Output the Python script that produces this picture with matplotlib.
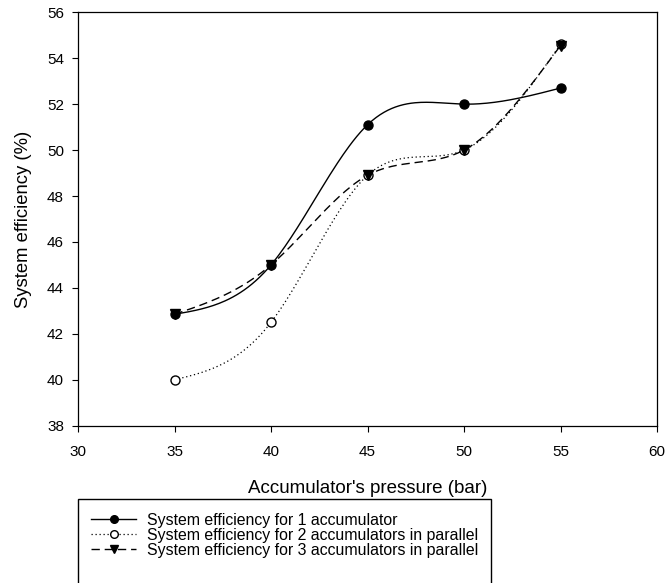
import numpy as np
import matplotlib
matplotlib.use("Agg")
import matplotlib.pyplot as plt
from matplotlib.lines import Line2D
from matplotlib.patches import Rectangle

plt.rcParams['font.family'] = ['Liberation Sans', 'DejaVu Sans']

# data
pressure = [35, 40, 45, 50, 55]
eff_1acc = [42.85, 45.0, 51.1, 52.0, 52.7]
eff_2acc = [40.0, 42.5, 48.9, 50.0, 54.6]
eff_3acc = [42.85, 45.0, 48.9, 50.0, 54.55]
labels = ["System efficiency for 1 accumulator",
          "System efficiency for 2 accumulators in parallel",
          "System efficiency for 3 accumulators in parallel"]


def natural_spline(x, y, n=200):
    # plain natural cubic spline, only used to draw the smooth curve
    x = np.asarray(x, float)
    y = np.asarray(y, float)
    k = len(x)
    h = np.diff(x)
    A = np.zeros((k, k))
    b = np.zeros(k)
    A[0, 0] = A[-1, -1] = 1
    for i in range(1, k - 1):
        A[i, i - 1] = h[i - 1]
        A[i, i] = 2 * (h[i - 1] + h[i])
        A[i, i + 1] = h[i]
        b[i] = 6 * ((y[i + 1] - y[i]) / h[i] - (y[i] - y[i - 1]) / h[i - 1])
    M = np.linalg.solve(A, b)
    xs = np.linspace(x[0], x[-1], n)
    j = np.clip(np.searchsorted(x, xs) - 1, 0, k - 2)
    t0 = x[j + 1] - xs
    t1 = xs - x[j]
    hj = h[j]
    ys = (M[j] * t0**3 + M[j + 1] * t1**3) / (6 * hj) \
        + (y[j] / hj - M[j] * hj / 6) * t0 + (y[j + 1] / hj - M[j + 1] * hj / 6) * t1
    return xs, ys


fig = plt.figure(figsize=(6.65, 5.83), dpi=100)
ax = fig.add_axes([0.1173, 0.2698, 0.8707, 0.7092])

styles = [
    dict(ls='-', marker='o', mfc='black', lw=1.0),
    dict(ls=(0, (1, 2.2)), marker='o', mfc='white', lw=0.9),
    dict(ls=(0, (6, 3.5)), marker='v', mfc='black', lw=1.0),
]
series = [eff_1acc, eff_2acc, eff_3acc]

handles = []
for vals, st, lab in zip(series, styles, labels):
    xs, ys = natural_spline(pressure, vals)
    ax.plot(xs, ys, color='black', ls=st['ls'], lw=st['lw'])
    ax.plot(pressure, vals, ls='none', marker=st['marker'], ms=6.5,
            mfc=st['mfc'], mec='black', mew=1.0, zorder=3)
    handles.append(Line2D([], [], color='black', ls=st['ls'], lw=st['lw'],
                          marker=st['marker'], ms=5.5, mfc=st['mfc'], mec='black'))

ax.set_xlim(30, 60)
ax.set_ylim(38, 56)
ax.set_xticks(np.arange(30, 61, 5))
ax.set_yticks(np.arange(38, 57, 2))
ax.tick_params(direction='out', length=4, width=0.8, labelsize=11)
ax.tick_params(axis='x', pad=10)
ax.tick_params(axis='y', pad=6)
for s in ax.spines.values():
    s.set_linewidth(0.9)

ax.set_xlabel("Accumulator's pressure (bar)", fontsize=13.5, labelpad=15)
ax.set_ylabel("System efficiency (%)", fontsize=13.3, labelpad=11)

# legend box runs off the bottom of the figure
fig.patches.append(Rectangle((0.1173, -0.05), 0.621, 0.1941, transform=fig.transFigure,
                             fill=False, ec='black', lw=1.0))
fig.legend(handles, labels, loc='upper left', bbox_to_anchor=(0.137, 0.12),
           frameon=False, fontsize=11.4, handlelength=2.85, handletextpad=0.7,
           labelspacing=0.0, borderaxespad=0, borderpad=0)

fig.savefig("out.png", dpi=100)
